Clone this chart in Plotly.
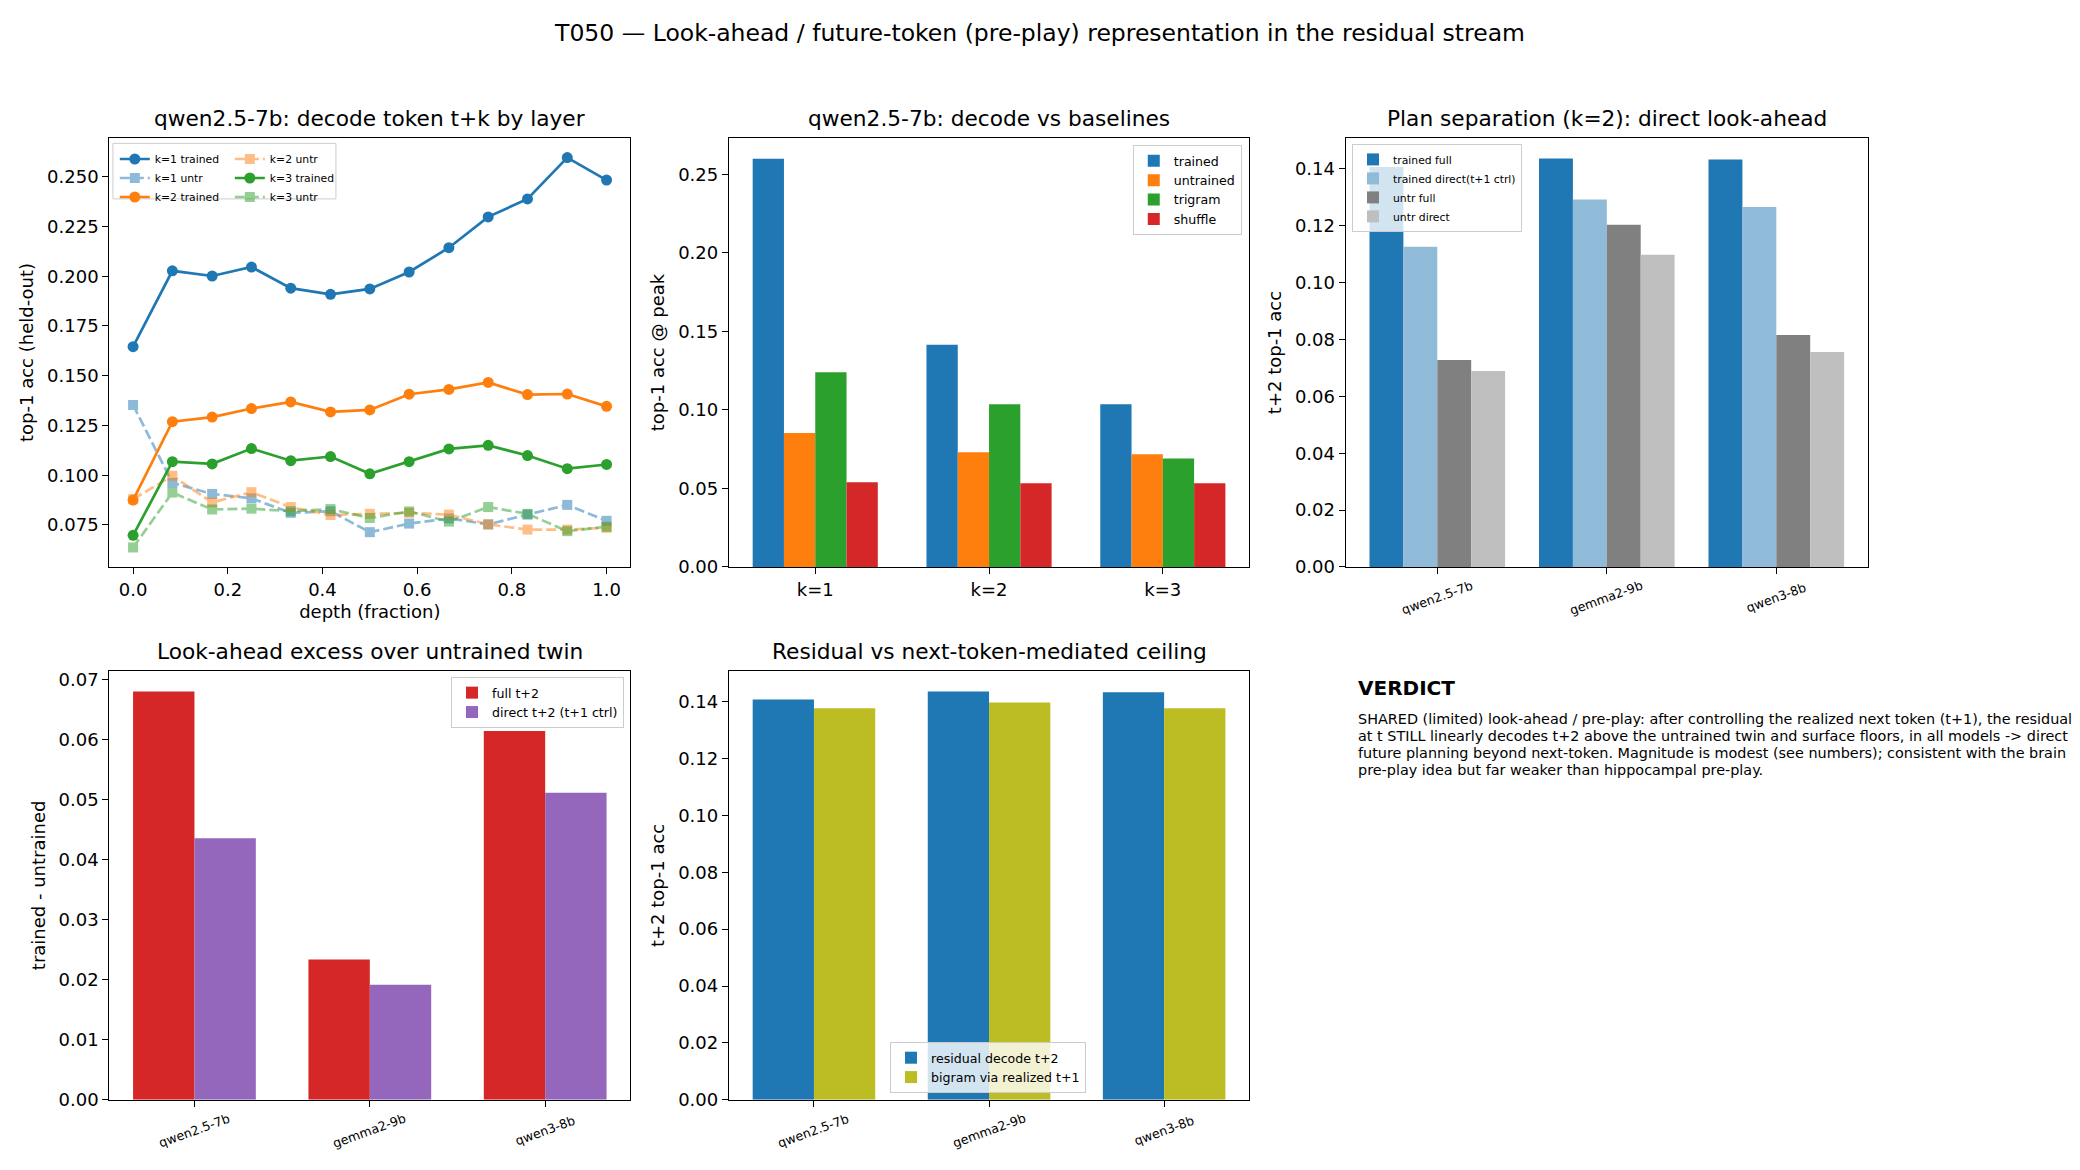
import plotly.graph_objects as go

# ---- data ----
depth = [0.0, 0.083, 0.167, 0.25, 0.333, 0.417, 0.5, 0.583, 0.667, 0.75, 0.833, 0.917, 1.0]
k1_trained = [0.1646, 0.2027, 0.2001, 0.2046, 0.1940, 0.1909, 0.1936, 0.2021, 0.2143, 0.2298, 0.2388, 0.2596, 0.2483]
k1_untr = [0.1353, 0.0962, 0.0906, 0.0884, 0.0811, 0.0819, 0.0714, 0.0757, 0.0783, 0.0753, 0.0802, 0.0851, 0.0771]
k2_trained = [0.0875, 0.1269, 0.1292, 0.1335, 0.1368, 0.1318, 0.1328, 0.1407, 0.1431, 0.1466, 0.1405, 0.1408, 0.1346]
k2_untr = [0.0880, 0.0997, 0.0863, 0.0915, 0.0840, 0.0800, 0.0806, 0.0811, 0.0802, 0.0753, 0.0727, 0.0727, 0.0736]
k3_trained = [0.0698, 0.1068, 0.1057, 0.1134, 0.1073, 0.1094, 0.1007, 0.1068, 0.1132, 0.1150, 0.1099, 0.1033, 0.1054]
k3_untr = [0.0637, 0.0913, 0.0828, 0.0832, 0.0819, 0.0830, 0.0785, 0.0818, 0.0767, 0.0840, 0.0806, 0.0719, 0.0741]

ks = ["k=1", "k=2", "k=3"]
base_trained = [0.2599, 0.1414, 0.1036]
base_untrained = [0.0852, 0.0731, 0.0718]
base_trigram = [0.1240, 0.1036, 0.0691]
base_shuffle = [0.0540, 0.0533, 0.0533]

models = ["qwen2.5-7b", "gemma2-9b", "qwen3-8b"]
sep_trained_full = [0.1406, 0.1436, 0.1433]
sep_trained_direct = [0.1126, 0.1292, 0.1266]
sep_untr_full = [0.0728, 0.1203, 0.0816]
sep_untr_direct = [0.0689, 0.1098, 0.0756]

excess_full = [0.0681, 0.0234, 0.0615]
excess_direct = [0.0436, 0.0192, 0.0512]

resid_decode = [0.1408, 0.1436, 0.1433]
bigram_ceiling = [0.1377, 0.1397, 0.1377]

verdict_lines = [
    "SHARED (limited) look-ahead / pre-play: after controlling the realized next token (t+1), the residual",
    "at t STILL linearly decodes t+2 above the untrained twin and surface floors, in all models -> direct",
    "future planning beyond next-token. Magnitude is modest (see numbers); consistent with the brain",
    "pre-play idea but far weaker than hippocampal pre-play.",
]

FONT = "DejaVu Sans"
W, H = 2080, 1170
C0, C1, C2, C3, C4, C8 = "#1f77b4", "#ff7f0e", "#2ca02c", "#d62728", "#9467bd", "#bcbd22"

fig = go.Figure()

# ---- panel 1: lines by layer ----
line_specs = [
    ("k=1 trained", k1_trained, C0, False, "legend", 1),
    ("k=1 untr", k1_untr, C0, True, "legend", 2),
    ("k=2 trained", k2_trained, C1, False, "legend", 3),
    ("k=2 untr", k2_untr, C1, True, "legend2", 4),
    ("k=3 trained", k3_trained, C2, False, "legend2", 5),
    ("k=3 untr", k3_untr, C2, True, "legend2", 6),
]
for name, vals, col, untr, leg, rank in line_specs:
    fig.add_trace(go.Scatter(
        x=depth, y=vals, name=name, mode="lines+markers",
        line=dict(color=col, width=2.7, dash="10px,4px" if untr else "solid"),
        marker=dict(symbol="square" if untr else "circle", size=10 if untr else 11, color=col),
        opacity=0.5 if untr else 1.0,
        xaxis="x", yaxis="y", legend=leg, legendrank=rank,
    ))


def bars(xa, ya, leg, series, width):
    n = len(series)
    for i, (name, vals, col) in enumerate(series):
        fig.add_trace(go.Bar(
            x=list(range(len(vals))), y=vals, name=name,
            width=width, offset=-n * width / 2 + i * width,
            marker=dict(color=col, line=dict(width=0)),
            xaxis=xa, yaxis=ya, legend=leg,
        ))


bars("x2", "y2", "legend3", [
    ("trained", base_trained, C0),
    ("untrained", base_untrained, C1),
    ("trigram", base_trigram, C2),
    ("shuffle", base_shuffle, C3),
], 0.18)

bars("x3", "y3", "legend4", [
    ("trained full", sep_trained_full, C0),
    ("trained direct(t+1 ctrl)", sep_trained_direct, "#8fbbd9"),
    ("untr full", sep_untr_full, "#808080"),
    ("untr direct", sep_untr_direct, "#bfbfbf"),
], 0.2)

bars("x4", "y4", "legend5", [
    ("full t+2", excess_full, C3),
    ("direct t+2 (t+1 ctrl)", excess_direct, C4),
], 0.35)

bars("x5", "y5", "legend6", [
    ("residual decode t+2", resid_decode, C0),
    ("bigram via realized t+1", bigram_ceiling, C8),
], 0.35)

# ---- axes ----
ax = dict(showline=True, linecolor="black", linewidth=1.4, mirror=True,
          ticks="outside", ticklen=6, tickwidth=1.4, tickcolor="black",
          showgrid=False, zeroline=False, automargin=False,
          tickfont=dict(family=FONT, size=18, color="black"),
          title_font=dict(family=FONT, size=18, color="black"))

top_dom = [0.5154, 0.882]
bot_dom = [0.060, 0.4265]
col1 = [0.0526, 0.303]
col2 = [0.3505, 0.6005]
col3 = [0.647, 0.898]

fig.update_layout(
    xaxis=dict(ax, domain=col1, anchor="y", range=[-0.05, 1.05], dtick=0.2, tickformat=".1f",
               title=dict(text="depth (fraction)", standoff=6)),
    yaxis=dict(ax, domain=top_dom, anchor="x", range=[0.0539, 0.2694], tick0=0.075, dtick=0.025,
               tickformat=".3f", title=dict(text="top-1 acc (held-out)", standoff=8)),
    xaxis2=dict(ax, domain=col2, anchor="y2", range=[-0.496, 2.496], tickvals=[0, 1, 2], ticktext=ks),
    yaxis2=dict(ax, domain=top_dom, anchor="x2", range=[0, 0.273], dtick=0.05, tickformat=".2f",
                title=dict(text="top-1 acc @ peak", standoff=8)),
    xaxis3=dict(ax, domain=col3, anchor="y3", range=[-0.54, 2.54], tickvals=[0, 1, 2], showticklabels=False),
    yaxis3=dict(ax, domain=top_dom, anchor="x3", range=[0, 0.1508], dtick=0.02, tickformat=".2f",
                title=dict(text="t+2 top-1 acc", standoff=8)),
    xaxis4=dict(ax, domain=col1, anchor="y4", range=[-0.485, 2.485], tickvals=[0, 1, 2], showticklabels=False),
    yaxis4=dict(ax, domain=bot_dom, anchor="x4", range=[0, 0.0715], dtick=0.01, tickformat=".2f",
                title=dict(text="trained - untrained", standoff=8)),
    xaxis5=dict(ax, domain=col2, anchor="y5", range=[-0.485, 2.485], tickvals=[0, 1, 2], showticklabels=False),
    yaxis5=dict(ax, domain=bot_dom, anchor="x5", range=[0, 0.1508], dtick=0.02, tickformat=".2f",
                title=dict(text="t+2 top-1 acc", standoff=8)),
)

# ---- legends ----
mid = dict(family=FONT, size=12.6, color="black")
small = dict(family=FONT, size=10.8, color="black")
leg_common = dict(bgcolor="rgba(255,255,255,0.8)", bordercolor="#cccccc", borderwidth=1,
                  font=mid, tracegroupgap=0)
fig.update_layout(
    legend=dict(x=0.0552, y=0.8765, xanchor="left", yanchor="top", bgcolor="rgba(0,0,0,0)",
                borderwidth=0, font=small, tracegroupgap=0),
    legend2=dict(x=0.1105, y=0.8765, xanchor="left", yanchor="top", bgcolor="rgba(0,0,0,0)",
                 borderwidth=0, font=small, tracegroupgap=0),
    legend3=dict(leg_common, x=0.597, y=0.876, xanchor="right", yanchor="top"),
    legend4=dict(leg_common, x=0.650, y=0.877, xanchor="left", yanchor="top", font=small),
    legend5=dict(leg_common, x=0.300, y=0.4214, xanchor="right", yanchor="top"),
    legend6=dict(leg_common, x=0.475, y=0.0658, xanchor="center", yanchor="bottom"),
)
# shared frame behind the two-column legend of panel 1
fig.add_shape(type="rect", xref="paper", yref="paper", x0=0.0543, x1=0.1615, y0=0.8300, y1=0.8775,
              line=dict(color="#cccccc", width=1), fillcolor="rgba(255,255,255,0.8)", layer="above")

# ---- titles ----
titles = [
    ("qwen2.5-7b: decode token t+k by layer", col1, top_dom),
    ("qwen2.5-7b: decode vs baselines", col2, top_dom),
    ("Plan separation (k=2): direct look-ahead", col3, top_dom),
    ("Look-ahead excess over untrained twin", col1, bot_dom),
    ("Residual vs next-token-mediated ceiling", col2, bot_dom),
]
for text, xd, yd in titles:
    fig.add_annotation(text=text, xref="paper", yref="paper", x=(xd[0] + xd[1]) / 2, y=yd[1],
                       xanchor="center", yanchor="bottom", yshift=5, showarrow=False,
                       font=dict(family=FONT, size=21.7, color="black"))

# rotated model labels under the bar panels
for xa, yd in [("x3", top_dom), ("x4", bot_dom), ("x5", bot_dom)]:
    for i, m in enumerate(models):
        fig.add_annotation(text=m, xref=xa, yref="paper", x=i, y=yd[0], xanchor="center",
                           yanchor="middle", yshift=-31, textangle=-20, showarrow=False,
                           font=dict(family=FONT, size=12.6, color="black"))

# verdict text block
fig.add_annotation(text="<b>VERDICT</b>", xref="paper", yref="paper", x=1356 / W, y=1 - 688 / H,
                   xanchor="left", yanchor="middle", showarrow=False, align="left",
                   font=dict(family=FONT, size=20, color="black"))
for i, line in enumerate(verdict_lines):
    fig.add_annotation(text=line, xref="paper", yref="paper", x=1356 / W, y=1 - (719 + 17 * i) / H,
                       xanchor="left", yanchor="middle", showarrow=False, align="left",
                       font=dict(family=FONT, size=14.4, color="black"))

fig.update_layout(
    title=dict(text="T050 \u2014 Look-ahead / future-token (pre-play) representation in the residual stream",
               x=0.5, xanchor="center", y=0.9717, yanchor="middle",
               font=dict(family=FONT, size=23.5, color="black")),
    width=W, height=H, margin=dict(l=0, r=0, t=0, b=0, autoexpand=False),
    paper_bgcolor="white", plot_bgcolor="white", barmode="overlay",
    font=dict(family=FONT, color="black"),
)

fig.write_html("out.html", config={"displayModeBar": False},
               post_script="document.body.style.margin='0';")
